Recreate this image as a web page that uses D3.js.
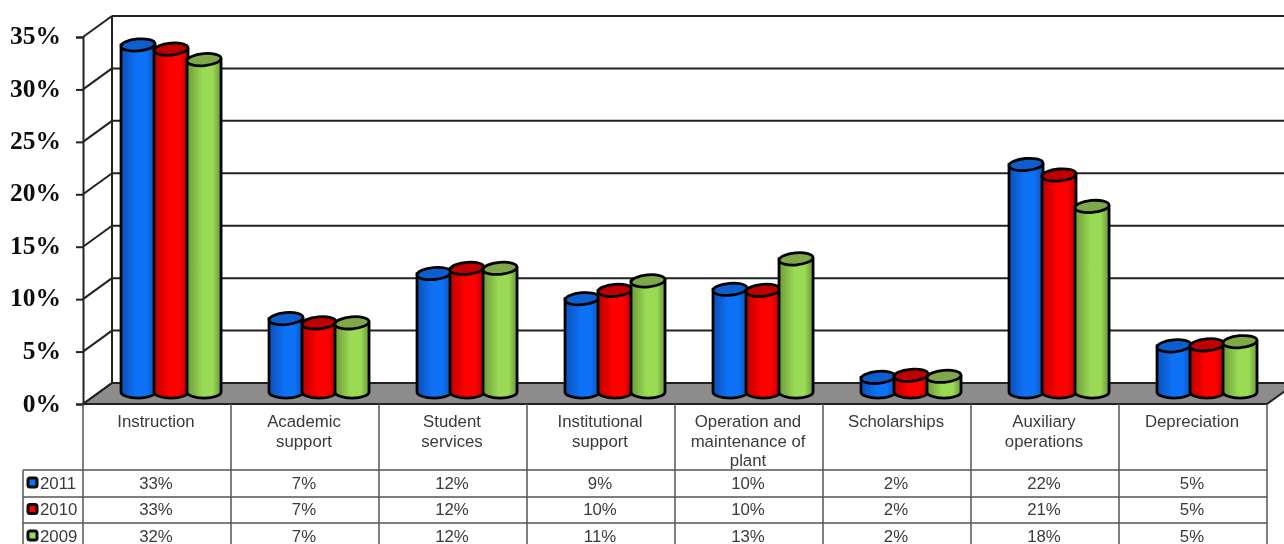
<!DOCTYPE html>
<html lang="en">
<head>
<meta charset="UTF-8">
<title>Expenses by function</title>
<script src="https://d3js.org/d3.v7.min.js"></script>
<style>
    html, body { margin: 0; padding: 0; background: #fff; overflow: hidden; }
    svg { display: block; }
    .tick-label { font-family: "Liberation Serif", serif; font-weight: bold; font-size: 25.5px; fill: #111; }
    .cell { font-family: "Liberation Sans", Arial, sans-serif; font-size: 16.8px; fill: #3a3a3a; }
    .rule { stroke: #555; stroke-width: 1.5px; }
    .frame { stroke: #222; stroke-width: 2px; fill: none; }
</style>
</head>
<body>
<div id="chart"></div>
<script>
    // values
    var categories = [
        ["Instruction"],
        ["Academic", "support"],
        ["Student", "services"],
        ["Institutional", "support"],
        ["Operation and", "maintenance of", "plant"],
        ["Scholarships"],
        ["Auxiliary", "operations"],
        ["Depreciation"]
    ];
    var years = ["2011", "2010", "2009"];
    var ticks = [0, 5, 10, 15, 20, 25, 30, 35];

    // bar heights as drawn
    var values2011 = [33.1, 7.0, 11.3, 8.9, 9.8, 1.4, 21.7, 4.4];
    var values2010 = [32.7, 6.6, 11.8, 9.7, 9.7, 1.6, 20.7, 4.5];
    var values2009 = [31.7, 6.6, 11.8, 10.6, 12.7, 1.5, 17.7, 4.8];
    var series = [values2011, values2010, values2009];

    // rounded figures printed in the table
    var labels2011 = ["33%", "7%", "12%", "9%", "10%", "2%", "22%", "5%"];
    var labels2010 = ["33%", "7%", "12%", "10%", "10%", "2%", "21%", "5%"];
    var labels2009 = ["32%", "7%", "12%", "11%", "13%", "2%", "18%", "5%"];
    var rowLabels = [labels2011, labels2010, labels2009];

    var colours = [
        {edge: "#0a4fb8", mid: "#0b72f5", top: "#0a5ecf"},
        {edge: "#b80000", mid: "#ff0000", top: "#c00000"},
        {edge: "#6d9a3a", mid: "#9ada55", top: "#7fa84a"}
    ];

    var width = 1284, height = 544;
    var floorY = 404, topY = 37;
    var left = 83, right = 1267;
    var depthX = 29, depthY = 21;   // how far the back wall sits from the front axis

    var svg = d3.select("#chart").append("svg")
        .attr("width", width)
        .attr("height", height);

    var x = d3.scaleBand()
        .domain(d3.range(categories.length))
        .range([left, right]);

    var y = d3.scaleLinear()
        .domain([0, 35])
        .range([floorY, topY]);

    var inner = d3.scaleBand()
        .domain(d3.range(years.length))
        .range([0, 99]);

    var defs = svg.append("defs");
    colours.forEach(function(c, i) {
        var g = defs.append("linearGradient").attr("id", "cyl" + i);
        g.append("stop").attr("offset", "0%").attr("stop-color", c.edge);
        g.append("stop").attr("offset", "45%").attr("stop-color", c.mid);
        g.append("stop").attr("offset", "75%").attr("stop-color", c.mid);
        g.append("stop").attr("offset", "100%").attr("stop-color", c.edge);
    });
    defs.append("filter").attr("id", "soft")
        .append("feGaussianBlur").attr("stdDeviation", 0.5);

    var root = svg.append("g").attr("filter", "url(#soft)");

    // floor
    root.append("polygon")
        .attr("points", [[left, floorY], [left + depthX, floorY - depthY], [right + depthX, floorY - depthY], [right, floorY]].join(" "))
        .attr("fill", "#8c8c8c")
        .attr("stroke", "#222")
        .attr("stroke-width", 2);

    // back wall lines and side wall diagonals
    var walls = root.append("g");
    walls.selectAll(".grid")
        .data(ticks.slice(1))
        .enter().append("line")
        .attr("class", "frame")
        .attr("x1", left + depthX)
        .attr("x2", width)
        .attr("y1", function(d) { return y(d) - depthY; })
        .attr("y2", function(d) { return y(d) - depthY; });
    walls.selectAll(".diag")
        .data(ticks)
        .enter().append("line")
        .attr("class", "frame")
        .attr("x1", left)
        .attr("x2", left + depthX)
        .attr("y1", function(d) { return y(d); })
        .attr("y2", function(d) { return y(d) - depthY; });
    walls.append("line").attr("class", "frame")
        .attr("x1", left + depthX).attr("x2", left + depthX)
        .attr("y1", y(35) - depthY).attr("y2", y(0) - depthY);

    // y axis on the front edge
    var axis = root.append("g")
        .attr("transform", "translate(" + left + ",0)")
        .call(d3.axisLeft(y).tickValues(ticks).tickSize(7).tickFormat(function(d) { return d + "%"; }));
    axis.select(".domain").attr("stroke", "#222").attr("stroke-width", 2);
    axis.selectAll(".tick line").attr("stroke", "#222").attr("stroke-width", 2);
    axis.selectAll(".tick text")
        .attr("class", "tick-label")
        .attr("x", -22)
        .attr("dy", function(d) { return d === 0 ? "0.3em" : "0.26em"; });

    // cylinders
    var rx = 17, ry = 6, baseDepth = 0.57;
    series.forEach(function(vals, s) {
        var bars = root.append("g").selectAll("g")
            .data(vals)
            .enter().append("g")
            .attr("transform", function(d, i) {
                var cx = x(i) + inner(s) + inner.bandwidth() / 2 + 22 + baseDepth * depthX;
                return "translate(" + cx + "," + (-baseDepth * depthY) + ")";
            });
        bars.append("path")
            .attr("d", function(d) {
                return "M" + (-rx) + "," + y(d) +
                    "L" + (-rx) + "," + y(0) +
                    "A" + rx + "," + ry + " 0 0 0 " + rx + "," + y(0) +
                    "L" + rx + "," + y(d) + "Z";
            })
            .attr("fill", "url(#cyl" + s + ")")
            .attr("stroke", "#050505")
            .attr("stroke-width", 2.8);
        bars.append("ellipse")
            .attr("cy", function(d) { return y(d); })
            .attr("rx", rx)
            .attr("ry", ry)
            .attr("transform", function(d) { return "rotate(-5 0 " + y(d) + ")"; })
            .attr("fill", colours[s].top)
            .attr("stroke", "#050505")
            .attr("stroke-width", 2.8);
    });

    // data table under the chart
    var rowY = [470, 497, 523, 550];
    var tableLeft = 23;
    var table = root.append("g");

    x.domain().concat(categories.length).forEach(function(i) {
        var px = i < categories.length ? x(i) : right;
        table.append("line").attr("class", "rule")
            .attr("x1", px).attr("x2", px)
            .attr("y1", floorY).attr("y2", height);
    });
    rowY.forEach(function(ry2) {
        table.append("line").attr("class", "rule")
            .attr("x1", tableLeft).attr("x2", right)
            .attr("y1", ry2).attr("y2", ry2);
    });
    table.append("line").attr("class", "rule")
        .attr("x1", tableLeft).attr("x2", tableLeft)
        .attr("y1", rowY[0]).attr("y2", height);

    // category names, one text line per tspan
    var names = table.selectAll(".name")
        .data(categories)
        .enter().append("text")
        .attr("class", "cell")
        .attr("text-anchor", "middle")
        .attr("y", 427);
    names.selectAll("tspan")
        .data(function(d, i) { return d.map(function(t) { return {t: t, i: i}; }); })
        .enter().append("tspan")
        .attr("x", function(d) { return x(d.i) + x.bandwidth() / 2 - 1; })
        .attr("dy", function(d, j) { return j ? 19.5 : 0; })
        .text(function(d) { return d.t; });

    // rows with legend keys
    years.forEach(function(yr, r) {
        var mid = (rowY[r] + rowY[r + 1]) / 2 - 1;
        table.append("rect")
            .attr("x", 28).attr("y", mid - 4.5)
            .attr("width", 9).attr("height", 9)
            .attr("rx", 2)
            .attr("fill", colours[r].mid)
            .attr("stroke", "#0a0a0a")
            .attr("stroke-width", 3);
        table.append("text")
            .attr("class", "cell")
            .attr("x", 40).attr("y", mid + 6)
            .text(yr);
        table.selectAll(".row" + r)
            .data(rowLabels[r])
            .enter().append("text")
            .attr("class", "cell")
            .attr("text-anchor", "middle")
            .attr("x", function(d, i) { return x(i) + x.bandwidth() / 2 - 1; })
            .attr("y", mid + 6)
            .text(function(d) { return d; });
    });
</script>
</body>
</html>
